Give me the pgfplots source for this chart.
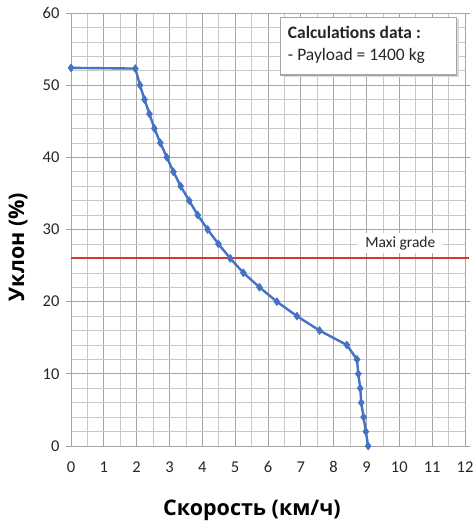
\documentclass[border=0pt]{standalone}
\usepackage{fontspec}
\setmainfont{Carlito}
\newfontfamily\heavy{Open Sans}
\usepackage{pgfplots}
\pgfplotsset{compat=1.18}
\definecolor{serblue}{RGB}{68,114,196}
\definecolor{maxred}{RGB}{214,58,44}
\definecolor{gridmaj}{RGB}{165,165,165}
\definecolor{gridmin}{RGB}{200,200,200}
\begin{document}
\begin{tikzpicture}
\begin{axis}[
    at={(0,0)}, anchor=south west,
    scale only axis,
    width=394pt, height=433pt,
    xmin=0, xmax=12, ymin=0, ymax=60,
    xtick={0,1,...,12}, ytick={0,10,...,60},
    minor x tick num=1, minor y tick num=4,
    grid=both,
    major grid style={gridmaj, line width=0.7pt},
    minor grid style={gridmin, line width=0.6pt},
    axis line style={gridmaj, line width=0.9pt},
    tick style={gridmaj, line width=0.7pt},
    tick align=outside,
    major tick length=5pt,
    minor tick length=0pt,
    xtick style={draw=none},
    ticklabel style={font=\fontsize{16.5}{18}\selectfont, text=black!85},
    /pgf/number format/assume math mode=true,
    xticklabel style={yshift=-7pt},
    yticklabel style={xshift=-3pt},
    clip=false,
]
\addplot[maxred, line width=2.2pt] coordinates {(0,26) (12.13,26)};
\addplot[serblue, line width=2.4pt, mark=diamond*, mark size=4pt,
    mark options={fill=serblue, draw=serblue, line width=0.5pt}] coordinates {
    (0,52.4) (1.96,52.3) (2.10,50) (2.24,48) (2.39,46) (2.54,44)
    (2.72,42) (2.92,40) (3.12,38) (3.34,36) (3.60,34) (3.86,32)
    (4.16,30) (4.49,28) (4.85,26) (5.25,24) (5.74,22) (6.27,20)
    (6.88,18) (7.57,16) (8.40,14) (8.71,12) (8.75,10) (8.81,8)
    (8.84,6) (8.91,4) (8.98,2) (9.05,0)
};
\node[fill=white, inner xsep=7pt, inner ysep=3pt, font=\fontsize{15.5}{17}\selectfont, text=black!85]
    at (axis cs:10.03,28.1) {Maxi grade};
\fill[black!15] (axis cs:6.45,59.2) rectangle (axis cs:11.82,51.2);
\draw[black!35, line width=1.2pt, fill=white] (axis cs:6.37,59.4) rectangle (axis cs:11.74,51.4);
\node[anchor=west, font=\fontsize{17.5}{19}\selectfont\bfseries, text=black!85]
    at (axis cs:6.50,57.3) {Calculations data :};
\node[anchor=west, font=\fontsize{17.5}{19}\selectfont, text=black!85]
    at (axis cs:6.50,54.0) {- Payload = 1400 kg};
\end{axis}
\node[font=\heavy\bfseries\fontsize{21.5}{24}\selectfont] at (181pt,-64pt) {Скорость (км/ч)};
\node[font=\heavy\bfseries\fontsize{21.5}{24}\selectfont, rotate=90] at (-53pt,199pt) {Уклон (\%)};
\pgfresetboundingbox
\path[use as bounding box] (-71pt,-82pt) rectangle (403pt,446pt);
\end{tikzpicture}
\end{document}
